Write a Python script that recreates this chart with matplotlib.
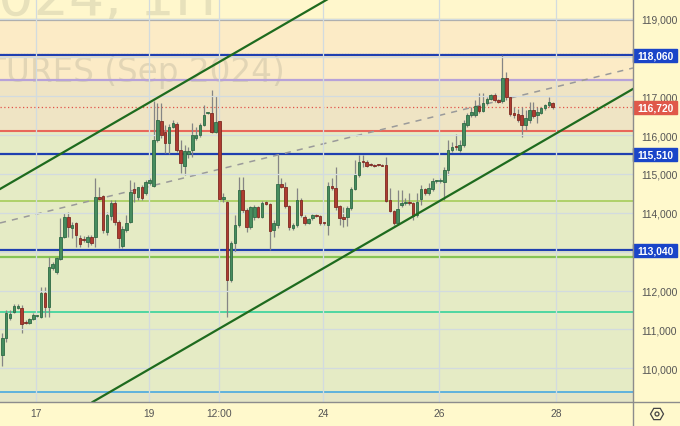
import numpy as np
import matplotlib
matplotlib.use("Agg")
import matplotlib.pyplot as plt
from matplotlib.patches import Rectangle, RegularPolygon, Circle

# hourly candles (prices)
opens = [110330, 110770, 111290, 111440, 111540, 111540, 111180, 111160, 111260, 111340,
         111310, 111930, 111570, 112580, 112470, 112810, 113380, 113890, 113610, 113740,
         113350, 113330, 113250, 113380, 113380, 114410, 114430, 113510, 113920, 114250,
         113760, 113140, 113560, 113760, 114610, 114410, 114670, 114510, 114770, 114690,
         115880, 116370, 116090, 115800, 116210, 116290, 115620, 115210, 115520, 115620,
         115930, 116010, 116270, 116580, 116580, 116090, 116370, 114360, 114280, 112270,
         113220, 113690, 114590, 114070, 113630, 113890, 114150, 113890, 114250, 114230,
         113560, 113690, 114750, 114670, 114180, 113610, 113690, 114330, 113890, 113740,
         113870, 113950, 113920, 113740, 113690, 114690, 114640, 114180, 113890, 113890,
         114130, 114620, 114980, 115340, 115310, 115240, 115240, 115230, 115230, 115240,
         114330, 114050, 113740, 114200, 114250, 114280, 114250, 113950, 114360, 114620,
         114510, 114620, 114810, 114820, 114800, 115110, 115620, 115700, 115620, 115750,
         116270, 116520, 116520, 116760, 116630, 116830, 116940, 117040, 116910, 116890,
         117480, 116990, 116580, 116550, 116520, 116270, 116400, 116650, 116520, 116580,
         116710, 116780, 116830]
highs = [110900, 111490, 111490, 111650, 111650, 111620, 111230, 111290, 111420, 111360,
         112090, 112090, 112860, 112730, 112860, 113870, 114000, 114020, 113760, 113760,
         113430, 113400, 113430, 113430, 114900, 114670, 114460, 114020, 114330, 114330,
         113810, 113660, 113940, 114850, 114800, 114670, 114720, 114850, 114900, 116890,
         116830, 116830, 116270, 116290, 116400, 116340, 115880, 115750, 115700, 116320,
         116210, 116320, 116780, 116600, 117170, 117010, 116400, 114510, 114310, 113270,
         113940, 114920, 114920, 114120, 114180, 114200, 114180, 114310, 114300, 114250,
         113810, 115490, 114900, 114800, 114200, 113740, 114640, 114380, 113950, 113870,
         113970, 113970, 113950, 113760, 114800, 114900, 115180, 114200, 114150, 114180,
         114670, 115360, 115490, 115490, 115360, 115270, 115260, 115260, 115250, 115440,
         114640, 114070, 114590, 114590, 114380, 114510, 114280, 114510, 114720, 114640,
         114770, 114900, 114850, 114900, 115180, 115880, 115830, 116030, 115880, 116400,
         116580, 116730, 116910, 117090, 117090, 116990, 117070, 117090, 116940, 118060,
         117630, 117010, 116730, 116680, 116730, 116650, 116860, 116860, 116730, 116730,
         116810, 116990, 116860]
lows = [110070, 110670, 111230, 111420, 111520, 110900, 111130, 111130, 111230, 111310,
        111290, 111310, 111310, 112530, 112420, 112790, 113350, 113380, 113350, 113120,
        113120, 113250, 113120, 113170, 113120, 114330, 113480, 113430, 113810, 113690,
        113090, 113090, 113510, 113740, 114280, 114330, 114330, 114460, 114720, 114670,
        115830, 115930, 115540, 115520, 116190, 115570, 115030, 114980, 115420, 115440,
        115880, 115960, 116240, 116550, 116060, 116060, 114280, 114280, 111310, 112220,
        112990, 113630, 114000, 113510, 113580, 113810, 113870, 113870, 114200, 113040,
        113380, 113610, 114640, 114130, 113560, 113560, 113640, 113890, 113690, 113710,
        113820, 113890, 113690, 113690, 113430, 114590, 114070, 113690, 113640, 113660,
        114070, 114590, 114930, 115180, 115180, 115210, 115180, 115200, 115200, 114280,
        114020, 113690, 113690, 114150, 114200, 114200, 113820, 113890, 114200, 114460,
        114460, 114560, 114770, 114770, 114330, 114980, 115570, 115620, 115570, 115700,
        116220, 116470, 116470, 116580, 116600, 116780, 116910, 116860, 116830, 116830,
        116910, 116500, 116450, 116340, 115960, 116140, 116320, 116450, 116320, 116550,
        116650, 116730, 116680]
closes = [110770, 111410, 111390, 111600, 111600, 111130, 111160, 111260, 111360, 111350,
          111930, 111570, 112600, 112680, 112830, 113380, 113890, 113630, 113690, 113430,
          113200, 113310, 113380, 113220, 114410, 114360, 113560, 113940, 114250, 113760,
          113350, 113580, 113740, 114540, 114510, 114670, 114380, 114800, 114850, 115880,
          116400, 116010, 115800, 116210, 116320, 115620, 115290, 115600, 115600, 116010,
          116010, 116270, 116520, 116600, 116090, 116340, 114360, 114410, 112270, 113220,
          113690, 114590, 114070, 113630, 114150, 114150, 113890, 114250, 114240, 113530,
          113740, 114750, 114670, 114180, 113640, 113690, 114330, 113950, 113740, 113840,
          113950, 113920, 113740, 113730, 114690, 114640, 114150, 113870, 113840, 114130,
          114620, 114980, 115310, 115310, 115210, 115230, 115210, 115220, 115210, 114310,
          114050, 113740, 114100, 114250, 114280, 114250, 113920, 114280, 114620, 114510,
          114640, 114820, 114820, 114830, 115110, 115620, 115700, 115690, 115750, 116320,
          116520, 116600, 116760, 116630, 116830, 116940, 117040, 116910, 116860, 117480,
          116990, 116550, 116520, 116400, 116270, 116450, 116650, 116500, 116600, 116710,
          116780, 116860, 116720]

date_labels = ['17', '19', '12:00', '24', '26', '28']
date_pos = [8.7, 37.85, 55.9, 82.7, 112.7, 142.85]

price_ticks = [110000, 111000, 112000, 113000, 114000, 115000, 116000, 117000, 118000, 119000]
hidden_ticks = [113000, 118000]

blue_levels = [118060, 115510, 113040]
last_price = 116720

# other horizontal drawings: (price, colour, width, style)
hlines = [
    (118960, '#A9A9A9', 1.6, '-'),
    (118090, '#5A6AB0', 0.8, ':'),
    (117420, '#B7A2D8', 1.6, '-'),
    (116100, '#E8675A', 1.5, '-'),
    (114300, '#A6CC5A', 1.2, '-'),
    (112870, '#86C454', 1.6, '-'),
    (111450, '#4FD6A2', 1.4, '-'),
    (109400, '#48A8E0', 1.2, '-'),
]

# shaded zones: (low, high, colour)
zones = [
    (118960, 119600, '#FFF7CC'),
    (117420, 118960, '#FCEBC6'),
    (116100, 117420, '#EFE4C4'),
    (109400, 116100, '#E5EBC5'),
    (109000, 109400, '#E4E5C6'),
]

# channel and median line anchor points (bar index, price)
chan_lower = [(0, 107785), (113.7, 114357)]
chan_upper = [(0, 114648), (83.8, 119492)]
median_line = [(-0.6, 113739), (162.7, 117728)]

W, H = 680, 427
fig = plt.figure(figsize=(W / 100, H / 100), dpi=100, facecolor='#FFF9CC')
ax = fig.add_axes([0, 24 / H, 633 / W, 403 / H])
ax.set_xlim(-0.6, 162.7)
ax.set_ylim(109131, 119504)

for lo, hi, col in zones:
    ax.axhspan(lo, hi, color=col, lw=0, zorder=0)

ax.set_axisbelow(False)
ax.set_yticks(price_ticks)
ax.set_xticks(date_pos)
ax.grid(True, color='#D2DBDF', lw=0.9, zorder=0.5)
for s in ax.spines.values():
    s.set_visible(False)
ax.yaxis.tick_right()
ax.tick_params(length=0, labelsize=7.4, labelcolor='#555555')
ax.tick_params(axis='y', pad=6)
ax.tick_params(axis='x', pad=4)
ax.set_yticklabels(['' if t in hidden_ticks else f'{t:,}' for t in price_ticks],
                   fontfamily='Liberation Sans')
ax.set_xticklabels(date_labels, fontfamily='Liberation Sans')

# watermark
ax.text(217 / 633, 1 - 15 / 403, 'RIU2024, 1H', transform=ax.transAxes, ha='right',
        va='baseline', fontsize=40, color='#8a8a7a', alpha=0.2, zorder=0.6, clip_on=True)
ax.text(285 / 633, 1 - 82 / 403, 'RTS INDEX FUTURES (Sep 2024)', transform=ax.transAxes,
        ha='right', va='baseline', fontsize=23.5, color='#8a8a7a', alpha=0.22, zorder=0.6,
        clip_on=True)

for y, col, lw, ls in hlines:
    ax.axhline(y, color=col, lw=lw, ls=ls, zorder=1)
for y in blue_levels:
    ax.axhline(y, color='#1F3FB0', lw=1.6, zorder=1.2)
ax.axhline(last_price, color='#E2544A', lw=0.9, ls=(0, (1, 2)), zorder=1.2)

ax.axline(median_line[0], median_line[1], color='#9A9A9A', lw=1.1, ls=(0, (4, 4)), zorder=1.3)

# candles
o = np.array(opens); h = np.array(highs); l = np.array(lows); c = np.array(closes)
x = np.arange(len(o))
up = c >= o
ax.vlines(x, l, h, color='#858585', lw=0.9, zorder=2)
body_lo = np.minimum(o, c)
body_h = np.maximum(np.abs(c - o), 28)
ax.bar(x[up], body_h[up], bottom=body_lo[up], width=0.66, color='#468C5E',
       edgecolor='#2F6A45', lw=0.6, zorder=3)
ax.bar(x[~up], body_h[~up], bottom=body_lo[~up], width=0.66, color='#AE3B30',
       edgecolor='#7E2A22', lw=0.6, zorder=3)

ax.axline(chan_lower[0], chan_lower[1], color='#1E6B1E', lw=1.6, zorder=4)
ax.axline(chan_upper[0], chan_upper[1], color='#1E6B1E', lw=1.6, zorder=4)

# price boxes on the right scale
ytr = ax.get_yaxis_transform()
box_h = 330
for y, col in [(v, '#1A45C8') for v in blue_levels] + [(last_price, '#E0584A')]:
    ax.add_patch(Rectangle((1.0, y - box_h / 2), 44 / 633, box_h, transform=ytr,
                           color=col, clip_on=False, zorder=5))
    ax.text(1.0 + 22 / 633, y, f'{y:,}', transform=ytr, ha='center', va='center',
            color='white', fontsize=7.4, fontweight='bold', fontfamily='Liberation Sans',
            clip_on=False, zorder=6)

# frame lines
fig.add_artist(plt.Line2D([633 / W, 633 / W], [0, 1], transform=fig.transFigure,
                          color='#8C8C8C', lw=1))
fig.add_artist(plt.Line2D([0, 1], [24 / H, 24 / H], transform=fig.transFigure,
                          color='#8C8C8C', lw=1))

# settings icon
fig.add_artist(RegularPolygon((6.57, 0.12), numVertices=6, radius=0.065,
                              orientation=np.pi / 6, transform=fig.dpi_scale_trans,
                              fill=False, ec='#444444', lw=0.9))
fig.add_artist(Circle((6.57, 0.12), 0.02, transform=fig.dpi_scale_trans,
                      fill=False, ec='#444444', lw=0.9))

fig.savefig('out.png', dpi=100, facecolor=fig.get_facecolor())
